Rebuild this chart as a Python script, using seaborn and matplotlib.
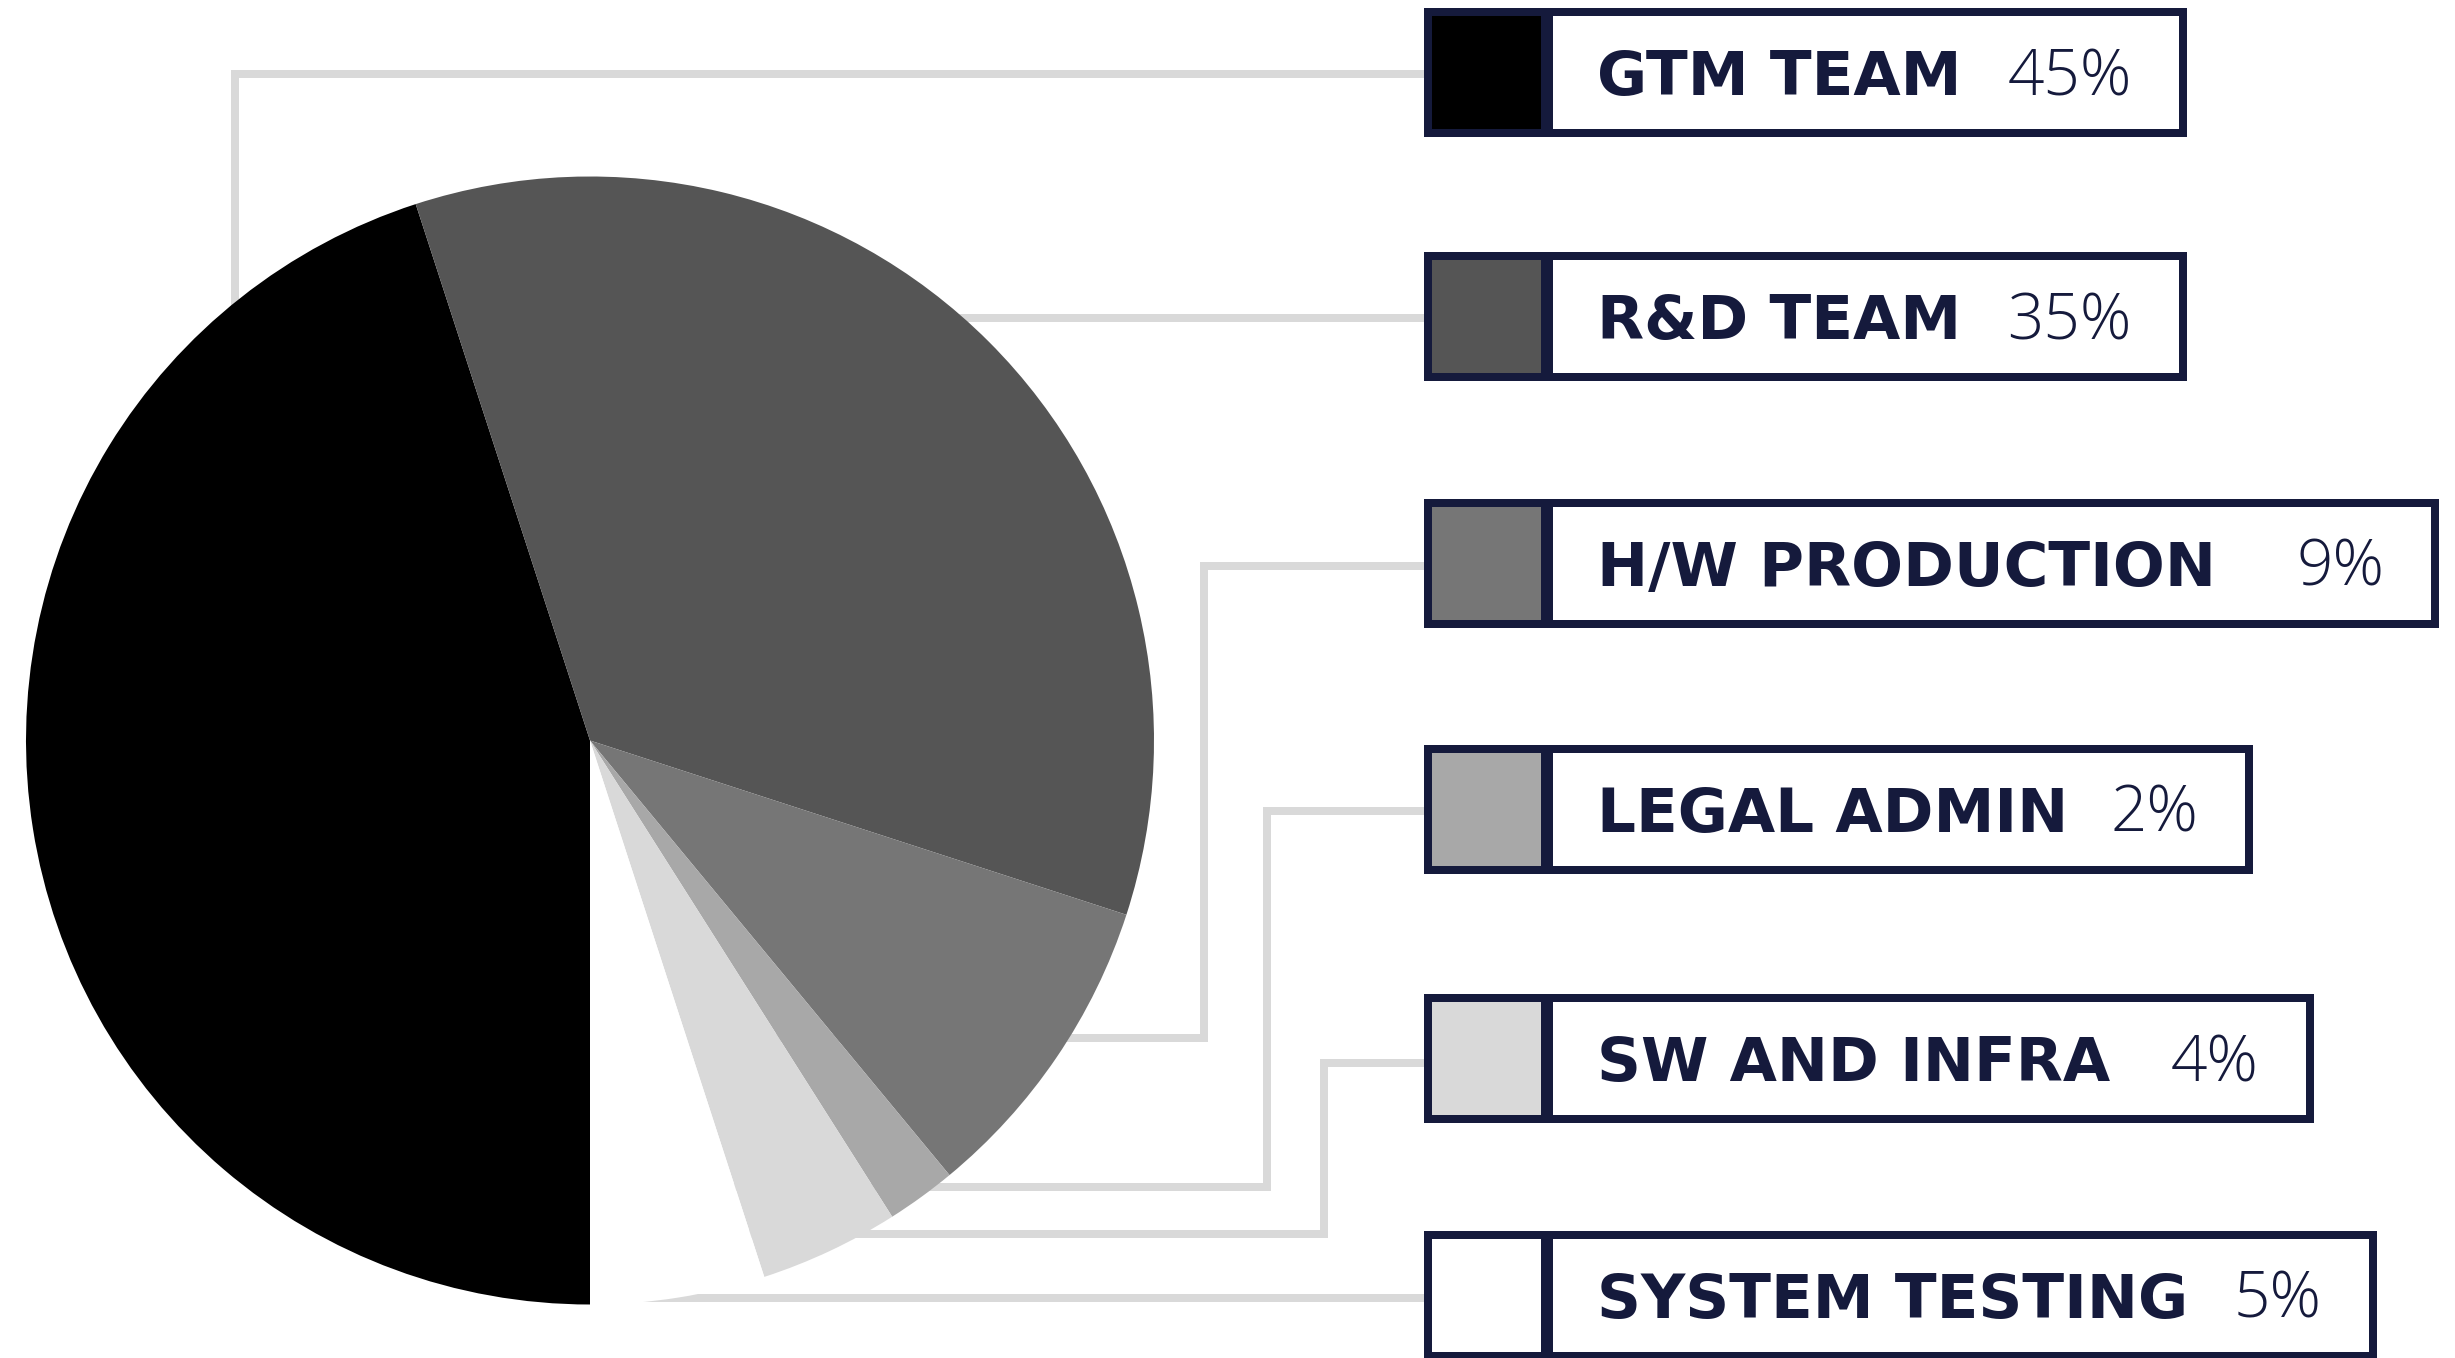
"""Budget split pie with boxed legend and elbow connectors"""

import matplotlib
matplotlib.use('Agg')
import matplotlib.pyplot as plt
from matplotlib.patches import Rectangle
import seaborn as sns

# --- data ---
LABELS = ['GTM TEAM', 'R&D TEAM', 'H/W PRODUCTION', 'LEGAL ADMIN', 'SW AND INFRA', 'SYSTEM TESTING']
SHARES = [45, 35, 9, 2, 4, 5]
SLICE_COLORS = ['#000000', '#555555', '#767676', '#a8a8a8', '#d9d9d9', '#ffffff']

# --- layout (pixels, y from top) ---
W, H = 2455, 1358
NAVY = '#151a3c'
LINE_GREY = '#d9d9d9'
PIE_CENTER = (590, 740.5)
PIE_RADIUS = 564
BOX_LEFT = 1424
BOX_H = 129
BORDER = 8
SWATCH_RIGHT = 1541
TEXT_LEFT = 1553
BOX_CY = [72, 316, 563, 809, 1058, 1295]
BOX_RIGHT = [2187, 2187, 2439, 2253, 2314, 2377]
LINE_Y = [74, 318, 566, 811, 1063, 1298]
ELBOW_X = [235, None, 1204, 1267, 1324, None]
LOWER_Y = [None, None, 1038, 1187, 1234, None]


def connector(i):
    y = LINE_Y[i]
    if ELBOW_X[i] is None:
        return [BOX_LEFT, 600], [y, y]
    ex = ELBOW_X[i]
    if LOWER_Y[i] is None:
        # goes straight down into the pie
        return [BOX_LEFT, ex, ex], [y, y, 700]
    ly = LOWER_Y[i]
    return [BOX_LEFT, ex, ex, 700], [y, y, ly, ly]


def draw():
    sns.set_theme(style='white')
    plt.rcParams['font.family'] = ['DejaVu Sans']

    fig = plt.figure(figsize=(W / 100, H / 100), dpi=100)
    ax = fig.add_axes([0, 0, 1, 1])
    palette = sns.color_palette(SLICE_COLORS)

    ax.pie(SHARES, colors=palette, startangle=90, counterclock=True,
           center=PIE_CENTER, radius=PIE_RADIUS,
           wedgeprops=dict(linewidth=0, zorder=3, antialiased=True))

    for i, label in enumerate(LABELS):
        xs, ys = connector(i)
        ax.plot(xs, ys, color=LINE_GREY, lw=8 * 0.72, solid_joinstyle='miter',
                solid_capstyle='butt', zorder=1)

        cy = BOX_CY[i]
        top = cy - BOX_H / 2
        right = BOX_RIGHT[i]
        ax.add_patch(Rectangle((BOX_LEFT, top), right - BOX_LEFT, BOX_H,
                               facecolor=NAVY, edgecolor='none', zorder=4))
        ax.add_patch(Rectangle((BOX_LEFT + BORDER, top + BORDER),
                               SWATCH_RIGHT - BOX_LEFT - BORDER, BOX_H - 2 * BORDER,
                               facecolor=palette[i], edgecolor='none', zorder=5))
        ax.add_patch(Rectangle((TEXT_LEFT, top + BORDER),
                               right - BORDER - TEXT_LEFT, BOX_H - 2 * BORDER,
                               facecolor='white', edgecolor='none', zorder=5))

        ax.text(1597, cy + 23, label, ha='left', va='baseline', fontsize=44,
                fontweight='bold', color=NAVY, zorder=6,
                family=['DejaVu Sans'])
        ax.text(right - 55, cy + 23, f'{SHARES[i]}%', ha='right', va='baseline',
                fontsize=46, fontweight='light', color=NAVY, zorder=6,
                family=['Open Sans', 'DejaVu Sans'])

    ax.set_xlim(0, W)
    ax.set_ylim(H, 0)
    ax.set_aspect('equal')
    ax.axis('off')
    fig.savefig('out.png', dpi=100, facecolor='white')
    plt.close(fig)


if __name__ == '__main__':
    draw()
